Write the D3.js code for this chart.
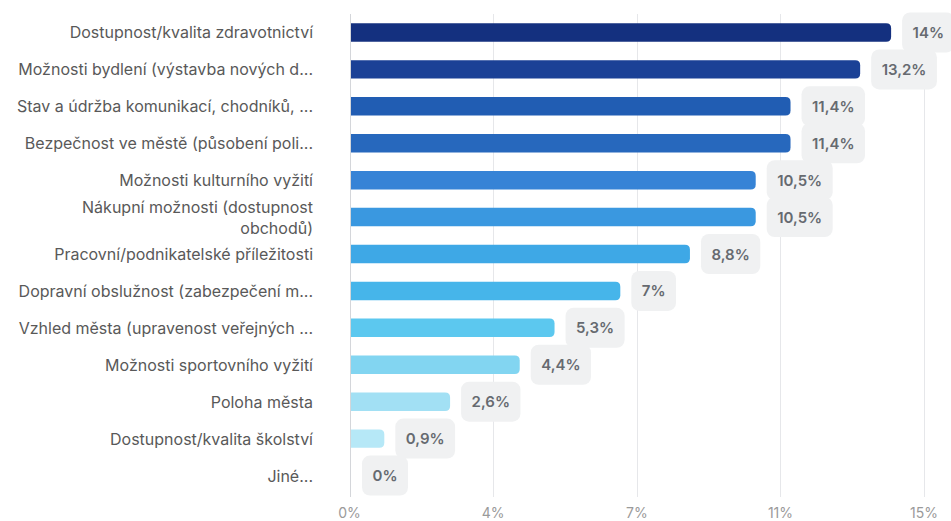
<!DOCTYPE html>
<html>
<head>
<meta charset="utf-8">
<script src="https://cdn.jsdelivr.net/npm/d3@7"></script>
<style>
  html, body { margin: 0; padding: 0; background: #ffffff; }
  svg { display: block; font-family: Inter, "Noto Sans", sans-serif; }
</style>
</head>
<body>
<svg id="chart" width="951" height="521"></svg>
<script>
const categories = [
  ["Dostupnost/kvalita zdravotnictví"],
  ["Možnosti bydlení (výstavba nových d..."],
  ["Stav a údržba komunikací, chodníků, ..."],
  ["Bezpečnost ve městě (působení poli..."],
  ["Možnosti kulturního vyžití"],
  ["Nákupní možnosti (dostupnost", "obchodů)"],
  ["Pracovní/podnikatelské příležitosti"],
  ["Dopravní obslužnost (zabezpečení m..."],
  ["Vzhled města (upravenost veřejných ..."],
  ["Možnosti sportovního vyžití"],
  ["Poloha města"],
  ["Dostupnost/kvalita školství"],
  ["Jiné..."]
];
const values = [14, 13.2, 11.4, 11.4, 10.5, 10.5, 8.8, 7, 5.3, 4.4, 2.6, 0.9, 0];
const valueLabels = ["14%", "13,2%", "11,4%", "11,4%", "10,5%", "10,5%", "8,8%", "7%", "5,3%", "4,4%", "2,6%", "0,9%", "0%"];
const barColors = ["#14307f", "#1b4196", "#215db3", "#2768bd", "#3683d6", "#3a98e0", "#3ea8e6", "#46b5ea", "#5cc8ef", "#82d5f1", "#a2e0f4", "#b6e8f7", "#c8eef9"];
const axisMax = 14.85;
const tickValues = [0, 3.71, 7.43, 11.14, 14.85];
const tickLabels = ["0%", "4%", "7%", "11%", "15%"];

const svg = d3.select("#chart");
const x = d3.scaleLinear().domain([0, axisMax]).range([349.5, 924]);
const y = d3.scaleBand().domain(d3.range(categories.length)).range([14, 494]).paddingInner(0.5).paddingOuter(0.25);

// gridlines
svg.append("g").selectAll("line").data(tickValues).join("line")
  .attr("x1", d => Math.round(x(d)) + 0.5).attr("x2", d => Math.round(x(d)) + 0.5)
  .attr("y1", 14).attr("y2", 497)
  .attr("stroke", (d, i) => i === 0 ? "#d4d6da" : "#e6e7ea").attr("stroke-width", 1);

// axis labels
svg.append("g").selectAll("text").data(tickValues).join("text")
  .attr("x", d => x(d)).attr("y", 512)
  .attr("text-anchor", "middle").attr("dominant-baseline", "central")
  .attr("font-size", 14).attr("fill", "#9a9a9a")
  .text((d, i) => tickLabels[i]);

// bars with rounded right end
const r = 5;
const bh = y.bandwidth();
svg.append("g").selectAll("path").data(values).join("path")
  .filter(d => d > 0)
  .attr("d", (d, i) => {
    const x0 = x(0) + 1.5, x1 = x(d), y0 = y(i), y1 = y(i) + bh;
    return `M${x0},${y0} H${x1 - r} Q${x1},${y0} ${x1},${y0 + r} V${y1 - r} Q${x1},${y1} ${x1 - r},${y1} H${x0} Z`;
  })
  .attr("fill", (d, i) => barColors[i]);

// value label boxes
const lab = svg.append("g");
values.forEach((v, i) => {
  const cy = y(i) + bh / 2;
  const g = lab.append("g");
  const t = g.append("text")
    .attr("x", 0).attr("y", cy)
    .attr("dominant-baseline", "central")
    .attr("font-size", 15).attr("font-weight", 600).attr("fill", "#666a70")
    .text(valueLabels[i]);
  const w = t.node().getComputedTextLength();
  const bx = (v > 0 ? x(v) : x(0) + 1.5) + 11;
  g.insert("rect", "text")
    .attr("x", bx).attr("y", cy - 20).attr("width", w + 21).attr("height", 40)
    .attr("rx", 8).attr("fill", "#f0f1f2");
  t.attr("x", bx + 10.5);
});

// category labels
const cat = svg.append("g");
categories.forEach((lines, i) => {
  const cy = y(i) + bh / 2;
  const t = cat.append("text")
    .attr("text-anchor", "end").attr("font-size", 16).attr("fill", "#595959");
  const n = lines.length;
  lines.forEach((ln, j) => {
    t.append("tspan").attr("x", 313)
      .attr("y", cy + (j - (n - 1) / 2) * 21)
      .attr("dominant-baseline", "central")
      .text(ln);
  });
});
</script>
</body>
</html>
